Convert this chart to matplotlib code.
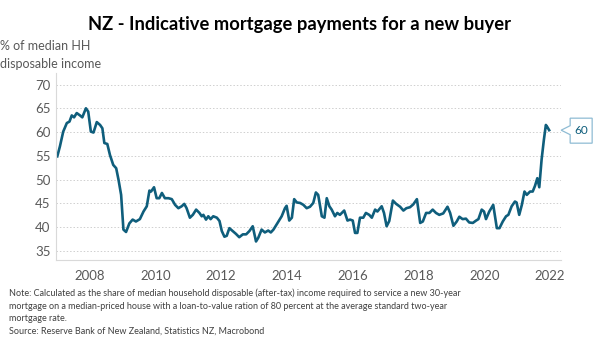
import matplotlib.pyplot as plt
import matplotlib.transforms as mtransforms
from matplotlib.patches import Polygon

# decimal year, % of median household disposable income
years = [2007.02, 2007.10, 2007.20, 2007.31, 2007.39, 2007.46, 2007.53, 2007.61, 2007.71, 2007.78,
         2007.89, 2007.96, 2008.04, 2008.12, 2008.22, 2008.32, 2008.39, 2008.45, 2008.54, 2008.62,
         2008.72, 2008.81, 2008.88, 2008.96, 2009.03, 2009.11, 2009.21, 2009.31, 2009.41, 2009.53,
         2009.64, 2009.74, 2009.82, 2009.87, 2009.96, 2010.04, 2010.12, 2010.20, 2010.29, 2010.40,
         2010.50, 2010.60, 2010.70, 2010.80, 2010.88, 2010.95, 2011.05, 2011.14, 2011.24, 2011.34,
         2011.41, 2011.46, 2011.54, 2011.61, 2011.68, 2011.76, 2011.87, 2011.95, 2012.02, 2012.10,
         2012.17, 2012.25, 2012.35, 2012.45, 2012.55, 2012.66, 2012.76, 2012.86, 2012.96, 2013.06,
         2013.13, 2013.23, 2013.33, 2013.43, 2013.51, 2013.59, 2013.74, 2013.84, 2013.94, 2013.99,
         2014.07, 2014.15, 2014.22, 2014.30, 2014.40, 2014.50, 2014.60, 2014.70, 2014.80, 2014.88,
         2014.95, 2015.06, 2015.14, 2015.21, 2015.29, 2015.36, 2015.46, 2015.53, 2015.61, 2015.74,
         2015.84, 2015.92, 2016.00, 2016.07, 2016.14, 2016.22, 2016.32, 2016.40, 2016.50, 2016.58,
         2016.68, 2016.75, 2016.88, 2016.95, 2017.03, 2017.11, 2017.22, 2017.32, 2017.44, 2017.54,
         2017.63, 2017.74, 2017.84, 2017.95, 2018.05, 2018.13, 2018.23, 2018.33, 2018.43, 2018.53,
         2018.63, 2018.75, 2018.88, 2018.96, 2019.06, 2019.16, 2019.24, 2019.34, 2019.44, 2019.54,
         2019.65, 2019.75, 2019.82, 2019.92, 2019.99, 2020.05, 2020.15, 2020.27, 2020.38, 2020.46,
         2020.56, 2020.66, 2020.73, 2020.83, 2020.93, 2020.98, 2021.06, 2021.14, 2021.22, 2021.29,
         2021.39, 2021.47, 2021.54, 2021.61, 2021.67, 2021.74, 2021.81, 2021.87, 2021.92, 2021.97]
payments = [54.9, 57.0, 60.1, 61.9, 62.2, 63.5, 63.1, 64.0, 63.5, 63.1,
            65.0, 64.3, 60.1, 59.9, 62.1, 61.5, 60.8, 57.7, 57.5, 55.2,
            53.1, 52.4, 50.0, 46.8, 39.5, 39.0, 40.8, 41.6, 41.2, 41.7,
            43.3, 44.4, 47.7, 47.5, 48.4, 46.1, 46.1, 47.2, 46.1, 46.1,
            45.9, 44.7, 44.0, 44.4, 44.9, 44.0, 42.0, 42.6, 43.7, 43.0,
            42.3, 42.6, 41.6, 42.3, 41.7, 42.3, 42.0, 41.3, 39.2, 38.0,
            38.2, 39.8, 39.2, 38.6, 37.9, 38.5, 38.5, 39.2, 40.2, 37.0,
            37.8, 39.5, 38.9, 39.3, 38.9, 39.5, 41.2, 42.3, 44.0, 44.5,
            41.4, 42.0, 45.9, 45.2, 45.1, 44.7, 44.0, 44.3, 45.1, 47.3,
            46.8, 42.3, 42.0, 46.1, 44.4, 43.7, 42.3, 43.0, 42.6, 43.5,
            41.4, 41.6, 41.4, 38.8, 38.8, 42.0, 42.0, 43.0, 42.6, 42.0,
            43.7, 43.3, 44.4, 43.0, 40.2, 41.3, 45.6, 44.9, 44.3, 43.5,
            44.0, 44.2, 44.8, 45.9, 40.9, 41.2, 43.0, 43.0, 43.7, 43.0,
            42.6, 42.9, 44.3, 43.0, 40.3, 41.2, 42.2, 41.7, 41.8, 41.0,
            40.9, 41.4, 41.7, 43.7, 43.3, 41.7, 43.3, 44.7, 39.8, 39.8,
            41.2, 42.3, 42.6, 44.4, 45.4, 45.2, 42.6, 44.7, 47.5, 46.8,
            47.5, 47.5, 48.7, 50.3, 48.4, 54.2, 58.4, 61.5, 61.0, 60.4]
yticks = [35, 40, 45, 50, 55, 60, 65, 70]
xticks = [2008, 2010, 2012, 2014, 2016, 2018, 2020, 2022]

line_col = '#0f5e7c'
grey = '#595959'
plt.rcParams['font.family'] = ['Lato', 'DejaVu Sans']

fig = plt.figure(figsize=(6, 3.53), dpi=100)
ax = fig.add_axes([0.0933, 0.2635, 0.8417, 0.5297])
ax.plot(years, payments, color=line_col, lw=1.9, solid_joinstyle='round')

ax.set_xlim(2006.98, 2022.33)
ax.set_ylim(33.11, 72.42)
ax.set_yticks(yticks)
ax.set_xticks(xticks)
ax.set_xticklabels([str(t) for t in xticks])
ax.tick_params(length=0, colors=grey, labelsize=9.5)
ax.tick_params(axis='y', pad=4)
ax.tick_params(axis='x', pad=7)
ax.grid(axis='y', color='#cfcfcf', ls=(0, (1.5, 2)), lw=0.7)
ax.set_axisbelow(True)
for s in ['top', 'right']:
    ax.spines[s].set_visible(False)
for s in ['left', 'bottom']:
    ax.spines[s].set_color('#d9d9d9')
    ax.spines[s].set_linewidth(0.8)

# value callout at last point
trans = fig.dpi_scale_trans + mtransforms.ScaledTranslation(years[-1], payments[-1], ax.transData)
box = Polygon([(0.21, 0.12), (0.43, 0.12), (0.43, -0.13), (0.21, -0.13),
               (0.21, -0.045), (0.12, 0.0), (0.21, 0.045)], closed=True,
              facecolor='white', edgecolor='#8fbcd4', lw=0.9, transform=trans, clip_on=False)
ax.add_patch(box)
ax.text(0.32, -0.005, '60', transform=trans, ha='center', va='center', color=line_col, fontsize=8.5)

fig.text(0.5, 0.93, 'NZ - Indicative mortgage payments for a new buyer', ha='center', va='center',
         fontsize=13.2, fontweight='bold', color='black')
fig.text(0.0, 0.87, '% of median HH', ha='left', va='center', fontsize=9, color=grey)
fig.text(0.0, 0.818, 'disposable income', ha='left', va='center', fontsize=9, color=grey)

note = ('Note: Calculated as the share of median household disposable (after-tax) income required to service a new 30-year\n'
        'mortgage on a median-priced house with a loan-to-value ration of 80 percent at the average standard two-year\n'
        'mortgage rate.\n'
        'Source: Reserve Bank of New Zealand, Statistics NZ, Macrobond')
fig.text(0.015, 0.182, note, ha='left', va='top', fontsize=6.5, color='#404040', linespacing=1.5)

fig.savefig('out.png', dpi=100)
